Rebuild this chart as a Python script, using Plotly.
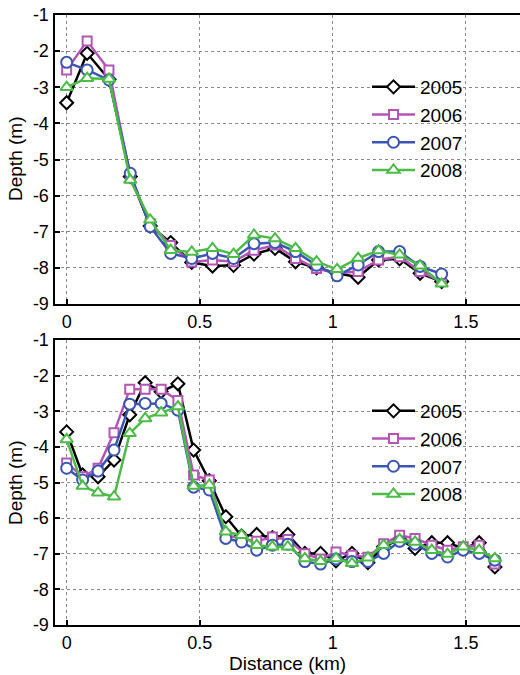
import plotly.graph_objects as go

years = ["2005", "2006", "2007", "2008"]

# Top panel
dist_top = [0, 0.077, 0.159, 0.239, 0.314, 0.391, 0.470, 0.548, 0.627, 0.704,
            0.783, 0.860, 0.939, 1.016, 1.095, 1.172, 1.251, 1.328, 1.409]
top_2005 = [-3.43, -2.06, -2.78, -5.47, -6.84, -7.30, -7.85, -7.95, -7.93, -7.62,
            -7.46, -7.83, -8.00, -8.15, -8.26, -7.78, -7.75, -8.15, -8.38]
top_2006 = [-2.52, -1.72, -2.52, -5.47, -6.77, -7.38, -7.84, -7.78, -7.83, -7.51,
            -7.37, -7.74, -8.02, -8.15, -8.10, -7.78, -7.69, -8.10, -8.38]
top_2007 = [-2.31, -2.52, -2.80, -5.38, -6.86, -7.60, -7.74, -7.60, -7.74, -7.33,
            -7.30, -7.55, -7.93, -8.22, -7.92, -7.55, -7.55, -7.96, -8.17]
top_2008 = [-3.00, -2.75, -2.77, -5.57, -6.67, -7.51, -7.56, -7.46, -7.62, -7.09,
            -7.19, -7.46, -7.83, -8.04, -7.73, -7.52, -7.64, -7.94, -8.44]

# Bottom panel
dist_bot = [0, 0.060, 0.118, 0.178, 0.237, 0.295, 0.355, 0.418, 0.477, 0.536,
            0.598, 0.657, 0.714, 0.773, 0.831, 0.895, 0.954, 1.012, 1.072, 1.132,
            1.191, 1.251, 1.309, 1.372, 1.431, 1.490, 1.550, 1.609]
bot_2005 = [-3.58, -4.79, -4.84, -4.37, -3.10, -2.20, -2.45, -2.23, -4.09, -4.95,
            -5.96, -6.50, -6.46, -6.55, -6.46, -6.99, -6.99, -7.20, -6.99, -7.25,
            -6.80, -6.60, -6.85, -6.69, -6.69, -6.85, -6.69, -7.37]
bot_2006 = [-4.45, -4.84, -4.60, -3.60, -2.38, -2.38, -2.38, -2.70, -4.79, -4.93,
            -6.48, -6.57, -6.65, -6.53, -6.60, -7.00, -7.15, -6.95, -7.04, -7.10,
            -6.72, -6.48, -6.57, -6.76, -6.90, -6.80, -6.76, -7.29]
bot_2007 = [-4.60, -4.93, -4.68, -4.09, -2.80, -2.78, -2.78, -2.97, -5.13, -5.21,
            -6.57, -6.67, -6.90, -6.76, -6.73, -7.22, -7.29, -7.15, -7.22, -7.22,
            -6.99, -6.65, -6.73, -6.99, -7.09, -6.90, -6.99, -7.18]
bot_2008 = [-3.79, -5.10, -5.29, -5.40, -3.62, -3.20, -3.04, -2.87, -5.10, -5.07,
            -6.38, -6.48, -6.76, -6.80, -6.80, -7.13, -7.21, -7.13, -7.27, -7.11,
            -6.76, -6.60, -6.67, -6.90, -7.01, -6.80, -6.90, -7.13]

x_ticks = [0, 0.5, 1, 1.5]
x_ticktext = ["0", "0.5", "1", "1.5"]
y_ticks = [-1, -2, -3, -4, -5, -6, -7, -8, -9]
y_ticktext = ["-1", "-2", "-3", "-4", "-5", "-6", "-7", "-8", "-9"]

colors = ["#000000", "#B455B6", "#3B55B5", "#4CBB47"]
symbols = ["diamond", "square", "circle", "triangle-up"]
sizes = [10, 9, 11, 11]

W, H = 520, 675
FONT = "Liberation Sans, Arial, sans-serif"

fig = go.Figure()

top_series = [top_2005, top_2006, top_2007, top_2008]
bot_series = [bot_2005, bot_2006, bot_2007, bot_2008]

for i, yr in enumerate(years):
    fig.add_trace(go.Scatter(
        x=dist_top, y=top_series[i], name=yr, mode="lines+markers",
        xaxis="x", yaxis="y", legend="legend", legendgroup="t" + yr,
        line=dict(color=colors[i], width=2.5),
        marker=dict(symbol=symbols[i], size=sizes[i], color="white",
                    line=dict(color=colors[i], width=2)),
    ))
for i, yr in enumerate(years):
    fig.add_trace(go.Scatter(
        x=dist_bot, y=bot_series[i], name=yr, mode="lines+markers",
        xaxis="x2", yaxis="y2", legend="legend2", legendgroup="b" + yr,
        line=dict(color=colors[i], width=2.5),
        marker=dict(symbol=symbols[i], size=sizes[i], color="white",
                    line=dict(color=colors[i], width=2)),
    ))

x_left = 54.5
x0_px = 66.7
px_per_km = 267.3
xr = [(x_left - x0_px) / px_per_km, (W + 2 - x0_px) / px_per_km]

def xaxis_common(anchor):
    return dict(
        domain=[x_left / W, 1.0], range=xr, anchor=anchor,
        tickvals=x_ticks, ticktext=x_ticktext,
        ticks="inside", ticklen=5, tickwidth=1.5, tickcolor="black",
        showline=True, linecolor="black", linewidth=2, mirror=True,
        showgrid=True, gridcolor="#8a8a8a", griddash="dot", gridwidth=1,
        zeroline=False, automargin=False,
        tickfont=dict(family=FONT, size=18, color="black"),
    )

def yaxis_common(anchor, top_px, bot_px):
    return dict(
        domain=[1 - bot_px / H, 1 - top_px / H], range=[-9, -1], anchor=anchor,
        tickvals=y_ticks, ticktext=y_ticktext,
        ticks="inside", ticklen=5, tickwidth=1.5, tickcolor="black",
        showline=True, linecolor="black", linewidth=2, mirror=False,
        showgrid=True, gridcolor="#8a8a8a", griddash="dot", gridwidth=1,
        zeroline=False, automargin=False,
        tickfont=dict(family=FONT, size=18, color="black"),
    )

legend_common = dict(
    font=dict(family=FONT, size=19, color="black"),
    bgcolor="rgba(255,255,255,0)", borderwidth=0,
    xanchor="left", yanchor="top", tracegroupgap=0, itemwidth=43,
)

title_font = dict(family=FONT, size=19, color="black")

fig.update_layout(
    width=W, height=H,
    margin=dict(l=0, r=0, t=0, b=0),
    paper_bgcolor="white", plot_bgcolor="white",
    xaxis=xaxis_common("y"),
    yaxis=yaxis_common("x", 15, 304),
    xaxis2=xaxis_common("y2"),
    yaxis2=yaxis_common("x2", 340, 625),
    legend=dict(x=367 / W, y=1 - 68 / H, **legend_common),
    legend2=dict(x=367 / W, y=1 - 392 / H, **legend_common),
    annotations=[
        dict(text="Depth (m)", x=16 / W, y=1 - 159 / H, xref="paper", yref="paper",
             xanchor="center", yanchor="middle",
             textangle=-90, showarrow=False, font=title_font),
        dict(text="Depth (m)", x=16 / W, y=1 - 483 / H, xref="paper", yref="paper",
             xanchor="center", yanchor="middle",
             textangle=-90, showarrow=False, font=title_font),
        dict(text="Distance (km)", x=287 / W, y=1 - 663 / H, xref="paper", yref="paper",
             xanchor="center", yanchor="middle",
             showarrow=False, font=title_font),
    ],
)

fig.write_html("out.html")
